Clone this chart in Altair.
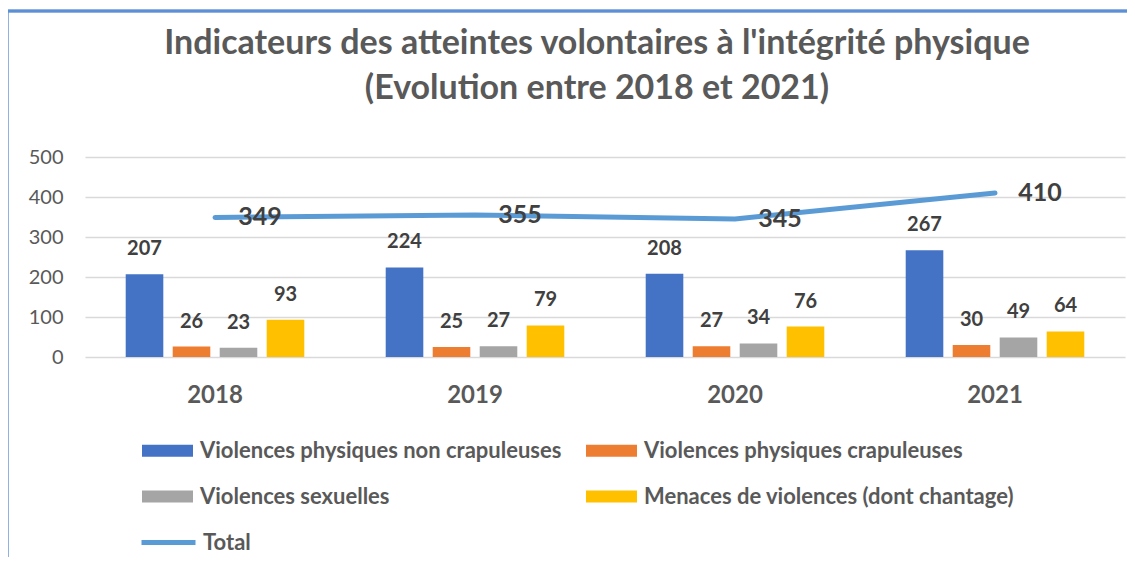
import altair as alt
import pandas as pd

years = ["2018", "2019", "2020", "2021"]
series = [
    "Violences physiques non crapuleuses",
    "Violences physiques crapuleuses",
    "Violences sexuelles",
    "Menaces de violences (dont chantage)",
]
non_crapuleuses = [207, 224, 208, 267]
crapuleuses = [26, 25, 27, 30]
sexuelles = [23, 27, 34, 49]
menaces = [93, 79, 76, 64]
total = [349, 355, 345, 410]
y_ticks = [0, 100, 200, 300, 400, 500]
colors = ["#4472C4", "#ED7D31", "#A5A5A5", "#FFC000"]
line_color = "#5B9BD5"

rows = []
for s, vals in zip(series, [non_crapuleuses, crapuleuses, sexuelles, menaces]):
    for y, v in zip(years, vals):
        rows.append({"year": y, "series": s, "value": v})
bars_df = pd.DataFrame(rows)
total_df = pd.DataFrame({"year": years, "value": total, "name": ["Total"] * len(years)})

FONT = "Lato"

x_enc = alt.X("year:N", sort=years,
              scale=alt.Scale(paddingInner=0.277, paddingOuter=0.1385),
              axis=alt.Axis(labelAngle=0, labelFontSize=24, labelFontWeight="bold",
                            labelColor="#595959", labelFont=FONT, domain=False,
                            ticks=False, labelPadding=26, title=None))
y_enc = alt.Y("value:Q", scale=alt.Scale(domain=[0, 500], nice=False),
              axis=alt.Axis(values=y_ticks, grid=True,
                            gridColor="#D9D9D9", gridWidth=1.5, domain=False,
                            ticks=False, labelFontSize=20, labelColor="#595959",
                            labelFont=FONT, labelPadding=22, title=None,
                            labelOverlap=False))
xoff = alt.XOffset("series:N", sort=series,
                   scale=alt.Scale(paddingInner=0.2, paddingOuter=0.1))

bars = alt.Chart(bars_df).mark_bar().encode(
    x=x_enc, y=y_enc, xOffset=xoff,
    color=alt.Color("series:N", sort=series,
                    scale=alt.Scale(domain=series, range=colors),
                    legend=alt.Legend(
                        title=None, orient="none", legendX=57, legendY=268,
                        columns=2, columnPadding=24, rowPadding=9,
                        values=[series[0], series[2], series[1], series[3]],
                        symbolType="M-1,-0.235L1,-0.235L1,0.235L-1,0.235Z",
                        symbolSize=2601, symbolStrokeWidth=0,
                        labelFontSize=22, labelFontWeight="bold",
                        labelColor="#595959", labelFont=FONT, labelOffset=7,
                        padding=0, labelLimit=500)),
)

bar_labels = alt.Chart(bars_df).mark_text(
    dy=-25, fontSize=20, fontWeight="bold", color="#404040", font=FONT,
    baseline="middle", align="center"
).encode(x=x_enc, y=y_enc, xOffset=xoff, text="value:Q")

line = alt.Chart(total_df).mark_line(strokeWidth=5, strokeCap="round").encode(
    x=x_enc, y=y_enc,
    stroke=alt.Stroke("name:N", scale=alt.Scale(domain=["Total"], range=[line_color]),
                      legend=alt.Legend(
                          title=None, orient="none", legendX=54, legendY=356,
                          symbolType="stroke", symbolSize=2916, symbolStrokeWidth=5,
                          labelFontSize=22, labelFontWeight="bold",
                          labelColor="#595959", labelFont=FONT, labelOffset=5,
                          padding=0)),
)

line_labels = alt.Chart(total_df).mark_text(
    dx=45, fontSize=25, fontWeight="bold", color="#404040", font=FONT,
    baseline="middle", align="center"
).encode(x=x_enc, y=y_enc, text="value:Q")

frame_v = alt.Chart(total_df).mark_rule(color="#5B8FD6", strokeWidth=2.5).encode(
    x=alt.value(-78), y=alt.value(-146), y2=alt.value(420))
frame_h = alt.Chart(total_df).mark_rule(color="#5B8FD6", strokeWidth=2.5).encode(
    x=alt.value(-78), x2=alt.value(1060), y=alt.value(-146))

chart = alt.layer(frame_v, frame_h, bars, bar_labels, line, line_labels).resolve_scale(
    color="independent"
).properties(
    width=1040, height=200,
    title=alt.TitleParams(
        text=["Indicateurs des atteintes volontaires à l'intégrité physique",
              "(Evolution entre 2018 et 2021)"],
        fontSize=34, font=FONT, fontWeight="bold", color="#595959",
        lineHeight=45, anchor="middle", frame="group", dx=-8, offset=-96),
    autosize=alt.AutoSizeParams(type="none"),
    padding={"left": 77, "top": 149, "right": 2, "bottom": 200},
).configure(background="white").configure_view(stroke=None)

chart.save("out.html", embed_options={"renderer": "svg", "actions": False})
